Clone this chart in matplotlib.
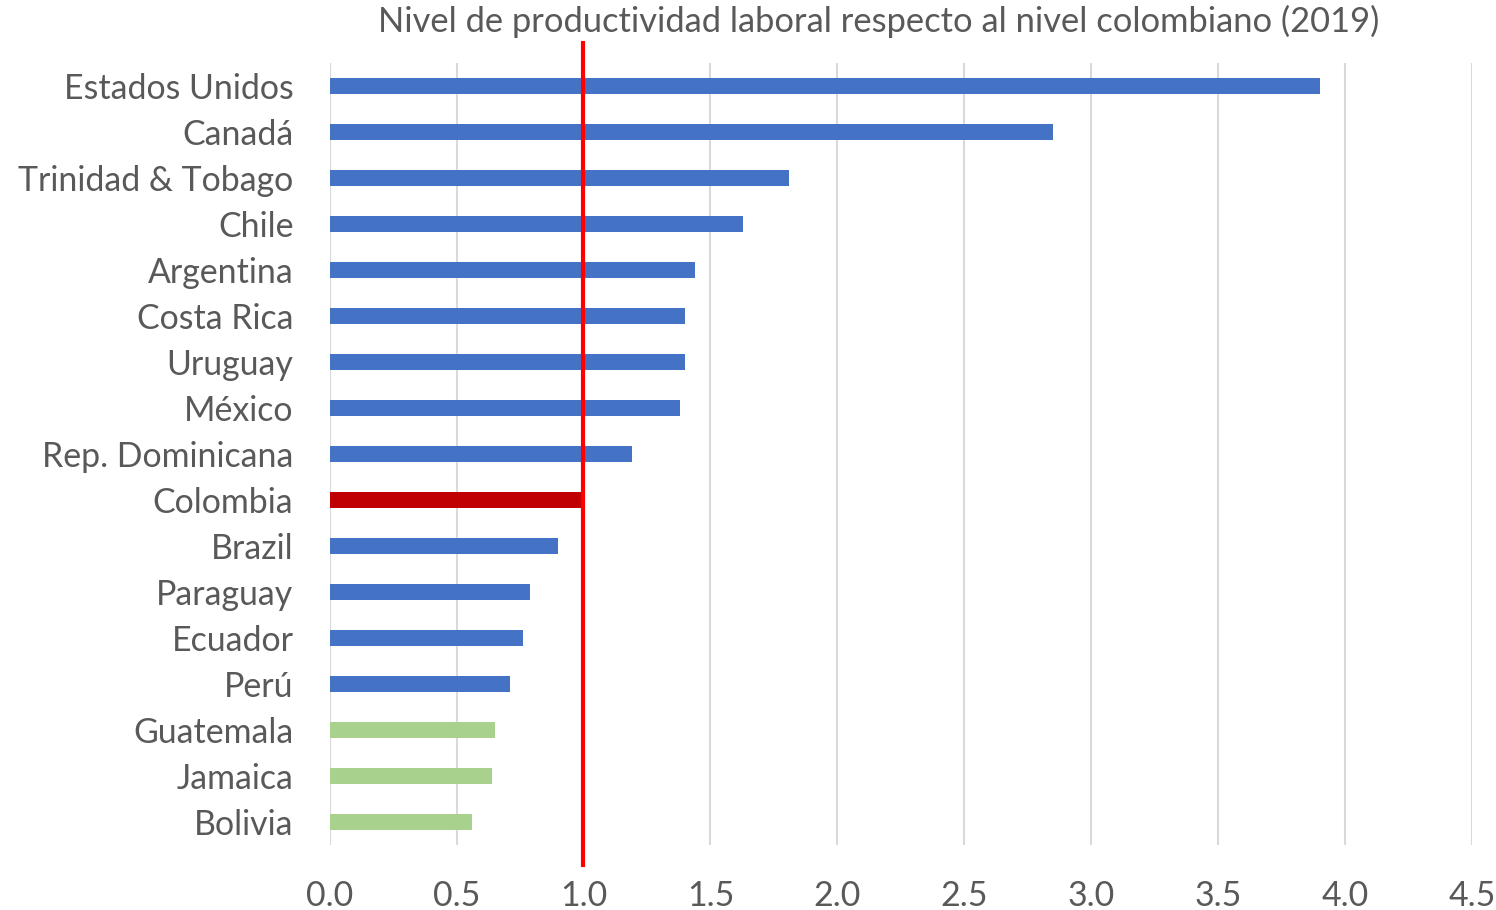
import matplotlib.pyplot as plt

# data, top to bottom as in the chart
paises = ["Estados Unidos", "Canadá", "Trinidad & Tobago", "Chile", "Argentina",
          "Costa Rica", "Uruguay", "México", "Rep. Dominicana", "Colombia",
          "Brazil", "Paraguay", "Ecuador", "Perú", "Guatemala", "Jamaica", "Bolivia"]
valores = [3.90, 2.85, 1.81, 1.63, 1.44, 1.40, 1.40, 1.38, 1.19, 1.00,
           0.90, 0.79, 0.76, 0.71, 0.65, 0.64, 0.56]
grupo = ["azul"] * 9 + ["rojo"] + ["azul"] * 4 + ["verde"] * 3
xticks = [0.0, 0.5, 1.0, 1.5, 2.0, 2.5, 3.0, 3.5, 4.0, 4.5]

colores = {"azul": "#4472C4", "rojo": "#C00000", "verde": "#A9D18E"}
gris = "#595959"

plt.rcParams['font.family'] = ['Lato', 'DejaVu Sans']

fig = plt.figure(figsize=(14.96, 9.10), dpi=100)
ax = fig.add_axes([0.2203, 0.0714, 0.984 - 0.2203, 0.9308 - 0.0714])

pos = list(range(len(paises)))
ax.barh(pos, valores, height=0.35, color=[colores[g] for g in grupo], zorder=2)

ax.set_ylim(len(paises) - 0.5, -0.5)
ax.set_xlim(0, 4.5)
ax.set_xticks(xticks)
ax.set_xticklabels([f"{v:.1f}" for v in xticks])
ax.set_yticks(pos)
ax.set_yticklabels(paises)

ax.grid(axis='x', color='#D9D9D9', linewidth=1.5, zorder=0)
ax.set_axisbelow(True)
for s in ax.spines.values():
    s.set_visible(False)
ax.tick_params(axis='both', length=0, labelsize=24.4, labelcolor=gris)
ax.tick_params(axis='y', pad=26)
ax.tick_params(axis='x', pad=25)

# reference line at the colombian level, sticking out of the plot area
ax.axvline(1.0, ymin=-0.026, ymax=1.026, color='#FF0000', linewidth=3, clip_on=False, zorder=3)

fig.text(0.587, 0.976, "Nivel de productividad laboral respecto al nivel colombiano (2019)",
         ha='center', va='center', fontsize=24.8, color=gris)

fig.savefig("out.png", dpi=100)
